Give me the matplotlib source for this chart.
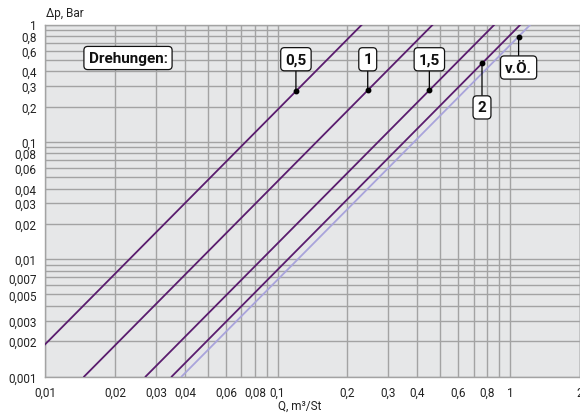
import matplotlib
matplotlib.use("Agg")
import matplotlib.pyplot as plt
import numpy as np

plt.rcParams['font.family'] = ['Roboto', 'DejaVu Sans']

# Data: flow Q (m³/St) at the two ends of each characteristic line (Δp = 0.001 and 1 bar)
dp_ends = [0.001, 1.0]
series_names = ["0,5", "1", "1,5", "2", "v.Ö."]
q_05 = [0.0073, 0.231]
q_1 = [0.01474, 0.466]
q_15 = [0.0271, 0.858]
q_2 = [0.0351, 1.11]
q_vo = [0.0387, 1.225]
series_q = [q_05, q_1, q_15, q_2, q_vo]
# Δp where each label's leader dot sits on its line
label_dp = [0.27, 0.275, 0.275, 0.466, 0.79]
label_offset_px = [(0, 32), (0, 31), (0, 31), (0, -44), (0, -31)]

x_ticks = [0.01, 0.02, 0.03, 0.04, 0.06, 0.08, 0.1, 0.2, 0.3, 0.4, 0.6, 0.8, 1, 2]
x_labels = ["0,01", "0,02", "0,03", "0,04", "0,06", "0,08", "0,1", "0,2", "0,3", "0,4", "0,6", "0,8", "1", "2"]
y_ticks = [0.001, 0.002, 0.003, 0.005, 0.007, 0.01, 0.02, 0.03, 0.04, 0.06, 0.08, 0.1,
           0.2, 0.3, 0.4, 0.6, 0.8, 1]
y_labels = ["0,001", "0,002", "0,003", "0,005", "0,007", "0,01", "0,02", "0,03", "0,04", "0,06",
            "0,08", "0,1", "0,2", "0,3", "0,4", "0,6", "0,8", "1"]

dark = "#5a1c6e"
light = "#a9a4db"
colors = [dark, dark, dark, dark, light]
grid_c = "#a3a3a3"

W, H = 580, 414
fig = plt.figure(figsize=(W / 100, H / 100), dpi=100)
left, right, top, bottom = 45, 580, 25.5, 377.5
ax = fig.add_axes([left / W, (H - bottom) / H, (right - left) / W, (bottom - top) / H])
ax.set_facecolor("#e6e7e8")
ax.set_xscale("log")
ax.set_yscale("log")
ax.set_xlim(0.01, 2)
ax.set_ylim(0.001, 1)

# grid at every 1..9 multiple
xg = [m * 10.0 ** e for e in (-2, -1, 0) for m in range(1, 10)] + [2.0]
yg = [m * 10.0 ** e for e in (-3, -2, -1) for m in range(1, 10)] + [1.0]
for v in xg:
    ax.axvline(v, color=grid_c, lw=1.0, zorder=1)
for v in yg:
    ax.axhline(v, color=grid_c, lw=1.0, zorder=1)

for s in ax.spines.values():
    s.set_color(grid_c)
    s.set_linewidth(1.0)

ax.set_xticks(x_ticks)
ax.set_xticklabels(x_labels)
ax.set_yticks(y_ticks)
ax.set_yticklabels(y_labels)
ax.xaxis.set_minor_locator(matplotlib.ticker.NullLocator())
ax.yaxis.set_minor_locator(matplotlib.ticker.NullLocator())
ax.tick_params(axis="both", length=0, labelsize=8.5, colors="#222222")
ax.tick_params(axis="x", pad=7)
ax.tick_params(axis="y", pad=6)

for q, c in zip(series_q, colors):
    ax.plot(q, dp_ends, color=c, lw=1.3, zorder=3, clip_on=True)

box = dict(boxstyle="round,pad=0.3,rounding_size=0.25", fc="white", ec="#111111", lw=0.9)
for name, q, dpl, off in zip(series_names, series_q, label_dp, label_offset_px):
    # position of the dot on the line (log-log interpolation between line ends)
    t = (np.log10(dpl) - np.log10(dp_ends[0])) / (np.log10(dp_ends[1]) - np.log10(dp_ends[0]))
    qd = 10 ** (np.log10(q[0]) + t * (np.log10(q[1]) - np.log10(q[0])))
    ax.plot([qd], [dpl], "o", color="black", ms=3.2, zorder=5)
    ax.annotate(name, xy=(qd, dpl), xytext=off, textcoords="offset pixels",
                ha="center", va="center", fontsize=11, fontweight="bold", color="#111111",
                bbox=box, zorder=6,
                arrowprops=dict(arrowstyle="-", color="black", lw=0.9, shrinkA=0, shrinkB=0))

fig.text(128 / W, 1 - 59 / H, "Drehungen:", ha="center", va="center", fontsize=11,
         fontweight="bold", color="#111111", bbox=box)

fig.text(46 / W, 1 - 13 / H, "Δp, Bar", ha="left", va="center", fontsize=8.5, color="#222222")
fig.text(300 / W, 1 - 406 / H, "Q, m³/St", ha="center", va="center", fontsize=8.5, color="#222222")

fig.savefig("out.png", dpi=100)
